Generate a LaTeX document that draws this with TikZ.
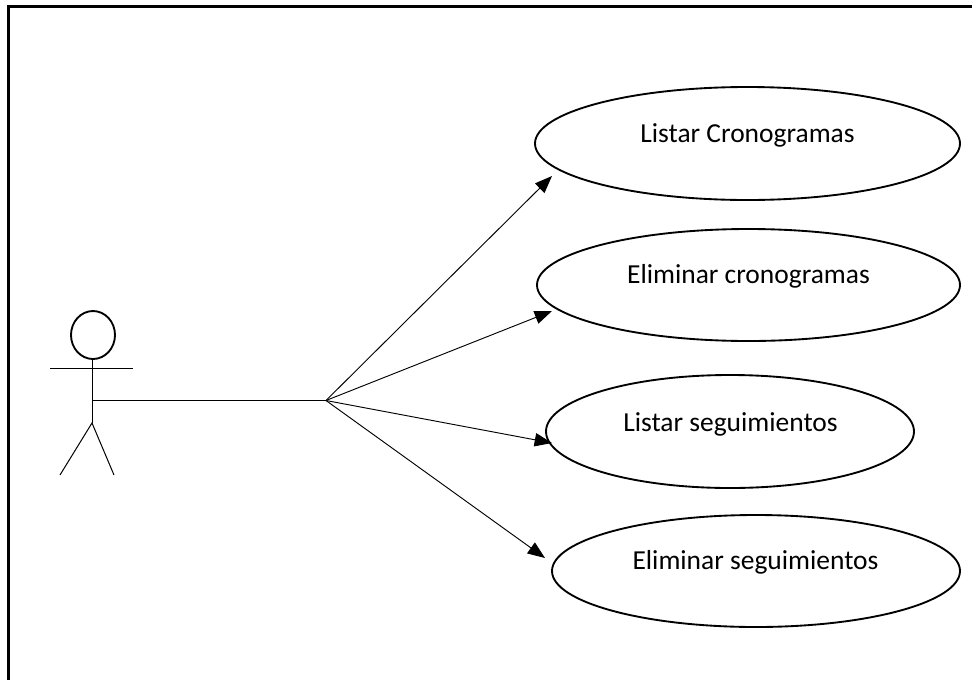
\documentclass[tikz,border=0pt]{standalone}
\usepackage{fontspec}
\setmainfont{Carlito}
\usetikzlibrary{shapes.geometric,arrows.meta,calc}
\tikzset{
  x=0.75pt,y=-0.75pt,
  usecase/.style={draw,ellipse,line width=1.4pt,inner sep=0pt,outer sep=0pt},
  label text/.style={inner sep=0pt,anchor=base,font=\fontsize{20.6pt}{24pt}\selectfont},
  thin line/.style={line width=0.75pt},
  assoc/.style={line width=0.7pt,-{Triangle[length=13pt,width=10pt]}}
}
\begin{document}
\begin{tikzpicture}
\useasboundingbox (0,0) rectangle (972,679);
\fill[white] (0,0) rectangle (972,679);
\clip (0,0) rectangle (972,679);
\draw[line width=1.9pt] (8.5,690) -- (8.5,6.5) -- (980,6.5);
\node[usecase,minimum width=425*0.75pt,minimum height=113*0.75pt] (e1) at (747.5,143.5) {};
\node[usecase,minimum width=423*0.75pt,minimum height=112*0.75pt] (e2) at (748.5,285) {};
\node[usecase,minimum width=368*0.75pt,minimum height=113*0.75pt] (e3) at (730,431.5) {};
\node[usecase,minimum width=408*0.75pt,minimum height=112*0.75pt] (e4) at (756,571) {};
\node[label text] (l1) at (747.5,142) {Listar Cronogramas};
\node[label text] (l2) at (748.5,283) {Eliminar cronogramas};
\node[label text] (l3) at (730.5,431) {Listar seguimientos};
\node[label text] (l4) at (755.5,569) {Eliminar seguimientos};
\node[usecase,minimum width=44*0.75pt,minimum height=48*0.75pt] (head) at (93,335) {};
\coordinate (neck) at (92,359);
\coordinate (hip) at (92,423);
\coordinate (armL) at (50,368.5);
\coordinate (armR) at (133,368.5);
\coordinate (footL) at (60,475);
\coordinate (footR) at (114,475);
\coordinate (waist) at (92,400.5);
\coordinate (hub) at (326,400.5);
\draw[thin line] (head.south -| neck) -- (hip);
\draw[thin line] (armL) -- (armR);
\draw[thin line] (footL) -- (hip) -- (footR);
\draw[thin line] (waist) -- (hub);
\coordinate (t1) at ($(e1.center)+(-195.5,32.5)$);
\coordinate (t2) at ($(e2.center)+(-196.5,26)$);
\coordinate (t3) at ($(e3.center)+(-178,11.5)$);
\coordinate (t4) at ($(e4.center)+(-211,-13)$);
\draw[assoc] (hub) -- (t1);
\draw[assoc] (hub) -- (t2);
\draw[assoc] (hub) -- (t3);
\draw[assoc] (hub) -- (t4);
\end{tikzpicture}
\end{document}
